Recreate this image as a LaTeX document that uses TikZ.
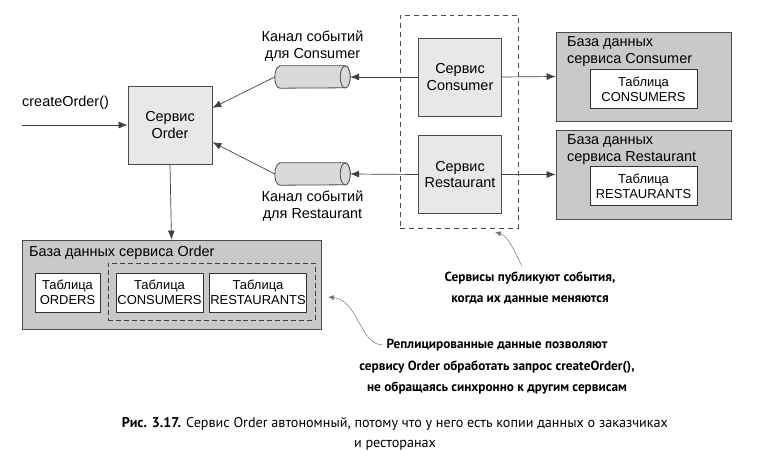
\documentclass[tikz,border=0pt]{standalone}
\usepackage{fontspec}
\setmainfont{Liberation Sans}
\newfontfamily\notefont{PT Sans}
\usepackage{xcolor}
\usetikzlibrary{positioning,arrows.meta}

\definecolor{svcgray}{HTML}{E8E8E8}
\definecolor{dbgray}{HTML}{C9C9C9}
\definecolor{chgray}{HTML}{DADADA}

\begin{document}
\begin{tikzpicture}[
    x=1bp, y=-1bp,
    every node/.style={font=\fontsize{14.5}{17}\selectfont},
    service/.style={rectangle, draw=black!70, fill=svcgray, minimum width=84bp, minimum height=78bp, align=center, line width=0.8pt},
    database/.style={rectangle, draw=black!70, fill=dbgray, minimum width=175bp, minimum height=89bp, line width=0.8pt},
    dbtitle/.style={inner sep=0pt, align=left},
    tablebox/.style={rectangle, draw=black!80, fill=white, minimum height=39bp, align=center, inner sep=1pt, line width=0.7pt, font=\fontsize{13}{15}\selectfont},
    channel/.style={rectangle, minimum width=75bp, minimum height=22bp, inner sep=0pt},
    tube/.style={draw=black!70, fill=chgray, line width=0.8pt},
    flow/.style={draw=black!75, line width=0.7pt, -{Latex[length=9pt,width=7pt]}},
    note/.style={font=\notefont\bfseries\fontsize{13.3}{21.5}\selectfont, align=center},
    pointer/.style={draw=black!55, line width=0.5pt, -{Latex[length=6pt,width=5pt]}}
]
\useasboundingbox (0,0) rectangle (758,461);

% Order service
\node[service] (order) at (170,125) {Сервис\\Order};
\coordinate (entry) at (22,125);
\node[anchor=west, inner sep=0pt] (createlabel) at (22,103) {createOrder()};

% Event channels
\node[channel] (chanC) at (312.5,77) {};
\node[align=center, inner sep=1pt] (chanClabel) [above=3bp of chanC] {Канал событий\\для Consumer};
\node[channel] (chanR) at (312.5,174) {};
\node[align=center, inner sep=1pt] (chanRlabel) [below=4bp of chanR] {Канал событий\\для Restaurant};
\foreach \ch in {chanC, chanR} {
  \draw[tube] ([xshift=5bp]\ch.north west) -- ([xshift=-5bp]\ch.north east)
    arc[start angle=90, end angle=-90, x radius=5bp, y radius=11bp]
    -- ([xshift=5bp]\ch.south west)
    arc[start angle=270, end angle=90, x radius=5bp, y radius=11bp] -- cycle;
  \draw[tube] ([xshift=-5bp]\ch.east) ellipse[x radius=5bp, y radius=11bp];
}

% Publishing services
\node[rectangle, draw=black!70, dashed, dash pattern=on 5pt off 4pt, minimum width=118bp, minimum height=213bp, line width=0.7pt] (svcgroup) at (459,121.5) {};
\node[service, minimum width=83bp] (consumer) at (460,77) {Сервис\\Consumer};
\node[service, minimum width=83bp] (restaurant) at (460,174.5) {Сервис\\Restaurant};

% Consumer database
\node[database] (conDB) at (643.5,76.5) {};
\node[dbtitle, anchor=north west] (conDBtitle) at (567,36) {База данных\\сервиса Consumer};
\node[tablebox, minimum width=107bp] (conTable) at (643.5,89) {Таблица\\CONSUMERS};

% Restaurant database
\node[database] (resDB) at (643.5,174.5) {};
\node[dbtitle, anchor=north west] (resDBtitle) at (567,134) {База данных\\сервиса Restaurant};
\node[tablebox, minimum width=107bp] (resTable) at (643.5,186) {Таблица\\RESTAURANTS};

% Order database
\node[database, minimum width=299bp] (orderDB) at (171.5,284.5) {};
\node[dbtitle, anchor=north west] (orderDBtitle) at (29,246) {База данных сервиса Order};
\node[rectangle, draw=black!75, dashed, dash pattern=on 5pt off 3pt, minimum width=207bp, minimum height=57bp, line width=0.7pt] (replica) at (211.5,291.5) {};
\node[tablebox, minimum width=65bp] (ordTable) at (67.5,292.5) {Таблица\\ORDERS};
\node[tablebox, minimum width=87bp] (repConTable) at (159.5,292.5) {Таблица\\CONSUMERS};
\node[tablebox, minimum width=96bp] (repResTable) at (258,292.5) {Таблица\\RESTAURANTS};

% Flows
\draw[flow] (entry) -- (order.west);
\draw[flow] (chanC.west) -- (order.22);
\draw[flow] (chanR.west) -- (order.-22);
\draw[flow] (consumer.west) -- (chanC.east);
\draw[flow] (restaurant.west) -- (chanR.east);
\draw[flow] (consumer.east) -- (conDB.west);
\draw[flow] (restaurant.east) -- (resDB.west);
\draw[flow] (order.south) -- (orderDB.north);

% Notes
\node[note] (pubnote) at (530,288) {Сервисы публикуют события,\\когда их данные меняются};
\coordinate (pubtip) at (495,232);
\draw[pointer] (pubnote.north) ++(-8,-2) .. controls (515,252) and (508,236) .. (pubtip);
\node[note] (replnote) at (497,367) {Реплицированные данные позволяют\\сервису Order обработать запрос createOrder(),\\не обращаясь синхронно к другим сервисам};
\coordinate (repltip) at (328,297);
\draw[pointer] (383,345) .. controls (360,345) and (358,300) .. (repltip);

% Caption
\node[font=\notefont\fontsize{14.2}{20}\selectfont, align=center] (caption) at (395,434) {\textbf{Рис. 3.17.} Сервис Order автономный, потому что у него есть копии данных о заказчиках\\и ресторанах};

\end{tikzpicture}
\end{document}
